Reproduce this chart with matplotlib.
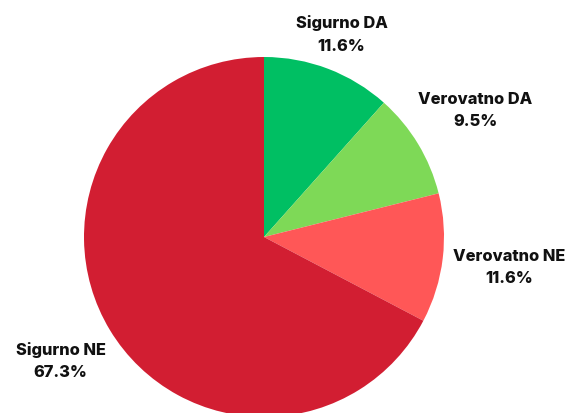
import numpy as np
import matplotlib
matplotlib.use("Agg")
import matplotlib.pyplot as plt

labels = ["Sigurno DA", "Verovatno DA", "Verovatno NE", "Sigurno NE"]
values = [11.6, 9.5, 11.6, 67.3]
colors = ["#00bf63", "#7ed957", "#ff5757", "#d21e32"]

W, H = 576, 414
fig = plt.figure(figsize=(W / 100, H / 100), dpi=100)
ax = fig.add_axes([0, 0, 1, 1])

cx, cy, r = 264, H - 238, 180
ax.pie(values, colors=colors, startangle=90, counterclock=False,
       center=(cx, cy), radius=r, frame=True,
       wedgeprops=dict(linewidth=0))
ax.set_xlim(0, W)
ax.set_ylim(0, H)
ax.set_aspect("equal")
ax.axis("off")

# label distance (in radii) along each slice's middle angle
dists = [1.21, 1.37, 1.37, 1.32]
start = 90.0
for lab, v, d in zip(labels, values, dists):
    mid = start - v * 3.6 / 2
    start -= v * 3.6
    a = np.deg2rad(mid)
    x = cx + d * r * np.cos(a)
    y = cy + d * r * np.sin(a)
    ax.text(x, y, f"{lab}\n{v:.1f}%", ha="center", va="center",
            fontsize=11.8, fontweight="heavy", family="Inter",
            linespacing=1.6, color="#111111")

fig.savefig("out.png", dpi=100)
